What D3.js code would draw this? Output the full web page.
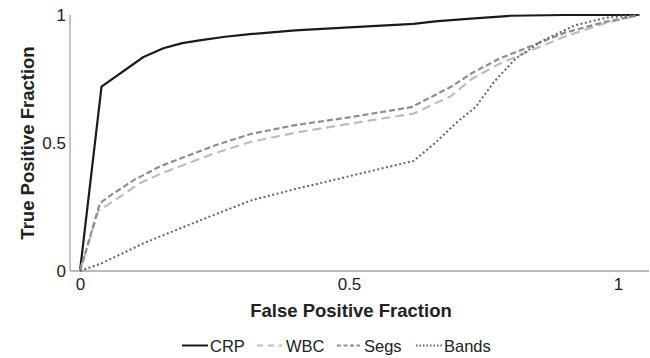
<!DOCTYPE html>
<html><head><meta charset="utf-8">
<script src="https://cdn.jsdelivr.net/npm/d3@7"></script>
<style>body{margin:0;background:#fff}svg{display:block;font-family:"Liberation Sans",Arial,sans-serif}</style>
</head><body><svg id="c" width="650" height="358"></svg>
<script>
const seriesNames = ["CRP","WBC","Segs","Bands"];
const crp = [[0,0],[0.04,0.72],[0.118,0.836],[0.155,0.87],[0.19,0.89],[0.225,0.902],[0.27,0.915],[0.32,0.926],[0.4,0.94],[0.5,0.952],[0.62,0.965],[0.66,0.975],[0.72,0.985],[0.8,0.997],[0.9,1.0],[1.04,1.0]];
const wbc = [[0,0],[0.034,0.235],[0.06,0.27],[0.112,0.344],[0.15,0.38],[0.2,0.42],[0.25,0.46],[0.317,0.504],[0.4,0.54],[0.5,0.575],[0.62,0.615],[0.69,0.684],[0.728,0.75],[0.78,0.81],[0.84,0.863],[0.9,0.915],[0.976,0.968],[1.04,1.0]];
const segs = [[0,0],[0.037,0.265],[0.06,0.3],[0.1,0.355],[0.15,0.41],[0.2,0.45],[0.25,0.49],[0.317,0.535],[0.4,0.57],[0.5,0.6],[0.616,0.64],[0.69,0.72],[0.73,0.775],[0.78,0.83],[0.84,0.88],[0.9,0.93],[0.976,0.973],[1.04,1.0]];
const bands = [[0,0],[0.04,0.03],[0.08,0.07],[0.12,0.11],[0.19,0.17],[0.25,0.22],[0.32,0.277],[0.4,0.32],[0.5,0.37],[0.56,0.40],[0.62,0.43],[0.66,0.5],[0.7,0.58],[0.735,0.64],[0.77,0.74],[0.81,0.83],[0.86,0.9],[0.92,0.96],[0.98,0.99],[1.04,1.0]];
const xTicks = [0,0.5,1];
const yTicks = [0,0.5,1];

const styles = [
  {color:"#1a1a1a", dash:null, w:2.2},
  {color:"#bdbdbd", dash:"9,5", w:2.2},
  {color:"#8e8e8e", dash:"6,3", w:2.2},
  {color:"#666666", dash:"2,2.5", w:2}
];
const data = [crp,wbc,segs,bands];

const svg = d3.select("#c");
const x = d3.scaleLinear().domain([0,1]).range([80,618]);
const y = d3.scaleLinear().domain([0,1]).range([271,15]);

svg.append("line").attr("x1",70).attr("x2",649).attr("y1",271).attr("y2",271).attr("stroke","#a6a6a6").attr("stroke-width",1.3);
svg.append("line").attr("x1",70).attr("x2",70).attr("y1",15).attr("y2",271).attr("stroke","#a6a6a6").attr("stroke-width",1.3);

const fmt = d => d===0?"0":d===1?"1":"0.5";
const xa = svg.append("g").attr("transform","translate(0,271)").call(d3.axisBottom(x).tickValues(xTicks).tickSize(0).tickPadding(7).tickFormat(fmt));
xa.select(".domain").remove();
xa.selectAll("text").attr("font-size",17).attr("fill","#222").attr("font-family","Liberation Sans, Arial, sans-serif");
const ya = svg.append("g").attr("transform","translate(66,0)").call(d3.axisLeft(y).tickValues(yTicks).tickSize(0).tickPadding(0).tickFormat(fmt));
ya.select(".domain").remove();
ya.selectAll("text").attr("font-size",17).attr("fill","#222").attr("font-family","Liberation Sans, Arial, sans-serif");

const line = d3.line().x(d=>x(d[0])).y(d=>y(d[1]));
data.forEach((s,i)=>{
  svg.append("path").attr("d",line(s)).attr("fill","none")
    .attr("stroke",styles[i].color).attr("stroke-width",styles[i].w)
    .attr("stroke-dasharray",styles[i].dash).attr("stroke-linejoin","round");
});

svg.append("text").attr("x",351).attr("y",317).attr("text-anchor","middle")
  .attr("font-size",18.5).attr("font-weight","bold").attr("fill","#222").text("False Positive Fraction");
svg.append("text").attr("transform","translate(34,143) rotate(-90)").attr("text-anchor","middle")
  .attr("font-size",18.5).attr("font-weight","bold").attr("fill","#222").text("True Positive Fraction");

const leg = [{x1:182,x2:208,tx:210},{x1:257,x2:282,tx:286},{x1:337,x2:360,tx:364},{x1:416,x2:442,tx:444}];
seriesNames.forEach((n,i)=>{
  svg.append("line").attr("x1",leg[i].x1).attr("x2",leg[i].x2).attr("y1",345.5).attr("y2",345.5)
    .attr("stroke",styles[i].color).attr("stroke-width",2).attr("stroke-dasharray",i===3?"1.5,2":styles[i].dash===null?null:(i===1?"6,5":"4,2.5"));
  svg.append("text").attr("x",leg[i].tx).attr("y",352).attr("font-size",16.5).attr("fill","#222").text(n);
});
</script></body></html>
